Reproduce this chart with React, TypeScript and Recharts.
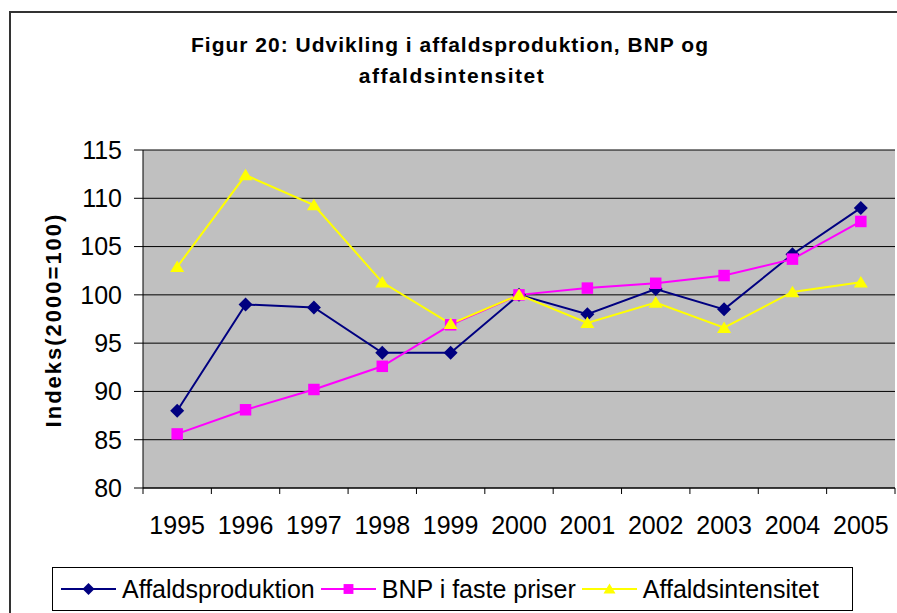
import React from 'react';
import { LineChart, Line, XAxis, YAxis, CartesianGrid, Legend } from 'recharts';

const years = ['1995', '1996', '1997', '1998', '1999', '2000', '2001', '2002', '2003', '2004', '2005'];
const affaldsproduktion = [88.0, 99.0, 98.7, 94.0, 94.0, 100, 98.0, 100.6, 98.5, 104.2, 109.0];
const bnpFastePriser = [85.6, 88.1, 90.2, 92.6, 96.9, 100, 100.7, 101.2, 102.0, 103.7, 107.6];
const affaldsintensitet = [102.9, 112.4, 109.3, 101.3, 97.0, 100, 97.1, 99.2, 96.6, 100.3, 101.3];
const yTicks = [80, 85, 90, 95, 100, 105, 110, 115];

const SERIES = [
  { key: 'affald', name: 'Affaldsproduktion', color: '#000080', shape: 'diamond' },
  { key: 'bnp', name: 'BNP i faste priser', color: '#FF00FF', shape: 'square' },
  { key: 'intens', name: 'Affaldsintensitet', color: '#FFFF00', shape: 'triangle' },
];

const data = years.map((year, i) => ({
  year,
  affald: affaldsproduktion[i],
  bnp: bnpFastePriser[i],
  intens: affaldsintensitet[i],
}));

const FONT = '"Liberation Sans", Arial, Helvetica, sans-serif';

function Marker({ shape, cx, cy, color, s }: { shape: string; cx: number; cy: number; color: string; s: number }) {
  if (shape === 'diamond') {
    return <polygon points={`${cx},${cy - s} ${cx + s},${cy} ${cx},${cy + s} ${cx - s},${cy}`} fill={color} />;
  }
  if (shape === 'square') {
    const h = s * 0.82;
    return <rect x={cx - h} y={cy - h} width={h * 2} height={h * 2} fill={color} />;
  }
  return <polygon points={`${cx},${cy - s * 0.9} ${cx + s},${cy + s * 0.75} ${cx - s},${cy + s * 0.75}`} fill={color} />;
}

function XTick(props: any) {
  const { x, y, payload, index, visibleTicksCount } = props;
  const half = payload?.offset ?? 0;
  const top = y - 28;
  return (
    <g>
      <line x1={x - half} x2={x - half} y1={top} y2={top + 6} stroke="#000" />
      {index === visibleTicksCount - 1 && (
        <line x1={x + half} x2={x + half} y1={top} y2={top + 6} stroke="#000" />
      )}
      <text x={x} y={y} dy="0.71em" textAnchor="middle" fontSize={25} fill="#000" fontFamily={FONT}>
        {payload.value}
      </text>
    </g>
  );
}

function LegendBox() {
  return (
    <div
      style={{
        boxSizing: 'border-box',
        width: 801,
        height: 44,
        border: '1px solid #000',
        display: 'flex',
        alignItems: 'center',
        paddingLeft: 8,
        fontFamily: FONT,
        fontSize: 25,
        color: '#000',
        background: '#fff',
      }}
    >
      {SERIES.map((s, i) => (
        <div key={s.key} style={{ display: 'flex', alignItems: 'center', marginLeft: i === 0 ? 0 : 6 }}>
          <svg width={55} height={20}>
            <line x1={0} x2={55} y1={10} y2={10} stroke={s.color} strokeWidth={2} />
            <Marker shape={s.shape} cx={27.5} cy={10} color={s.color} s={6} />
          </svg>
          <span style={{ marginLeft: 6, whiteSpace: 'nowrap' }}>{s.name}</span>
        </div>
      ))}
    </div>
  );
}

export default function App() {
  return (
    <div style={{ position: 'relative', width: 897, height: 613, overflow: 'hidden', background: '#fff' }}>
      <style>{'body{margin:0}'}</style>
      <div
        style={{
          position: 'absolute',
          left: 9,
          top: 11,
          width: 1000,
          height: 1000,
          border: '2px solid #333',
          boxSizing: 'border-box',
        }}
      />
      <LineChart
        width={897}
        height={613}
        data={data}
        margin={{ top: 150, right: 2, bottom: 0, left: 0 }}
        style={{ position: 'absolute', left: 0, top: 0 }}
      >
        <CartesianGrid vertical={false} stroke="#000" fill="#C0C0C0" fillOpacity={1} />
        <XAxis
          dataKey="year"
          scale="band"
          interval={0}
          tick={<XTick />}
          tickSize={6}
          tickMargin={22}
          tickLine={{ stroke: 'none' }}
          axisLine={{ stroke: '#000' }}
          height={125}
        />
        <XAxis
          xAxisId="top"
          orientation="top"
          dataKey="year"
          height={0}
          tick={false}
          tickLine={false}
          axisLine={{ stroke: '#808080' }}
        />
        <YAxis
          domain={[80, 115]}
          ticks={yTicks}
          interval={0}
          width={143}
          tickSize={9}
          tickMargin={12}
          tickLine={{ stroke: '#000' }}
          axisLine={{ stroke: '#000' }}
          tick={{ fontSize: 25, fill: '#000', fontFamily: FONT }}
        />
        <YAxis
          yAxisId="right"
          orientation="right"
          domain={[80, 115]}
          width={0}
          tick={false}
          tickLine={false}
          axisLine={{ stroke: '#808080' }}
        />
        {SERIES.map((s) => (
          <Line
            key={s.key}
            dataKey={s.key}
            name={s.name}
            stroke={s.color}
            strokeWidth={2}
            isAnimationActive={false}
            dot={(p: any) => (
              <Marker key={`${s.key}-${p.index}`} shape={s.shape} cx={p.cx} cy={p.cy} color={s.color} s={7} />
            )}
            activeDot={false}
          />
        ))}
        <Legend
          verticalAlign="middle"
          align="center"
          layout="horizontal"
          wrapperStyle={{ top: 567, left: 52, width: 801 }}
          content={() => <LegendBox />}
        />
      </LineChart>
      <svg
        width={897}
        height={613}
        style={{ position: 'absolute', left: 0, top: 0, pointerEvents: 'none' }}
      >
        <g fontFamily={FONT} fontWeight="bold" fill="#000">
          <text x={450} y={52} textAnchor="middle" fontSize={21} letterSpacing={1}>
            Figur 20: Udvikling i affaldsproduktion, BNP og
          </text>
          <text x={452} y={83} textAnchor="middle" fontSize={21} letterSpacing={1.5}>
            affaldsintensitet
          </text>
          <text
            transform="translate(53,320) rotate(-90)"
            textAnchor="middle"
            dominantBaseline="central"
            fontSize={22}
            letterSpacing={2}
          >
            Indeks(2000=100)
          </text>
        </g>
      </svg>
    </div>
  );
}
